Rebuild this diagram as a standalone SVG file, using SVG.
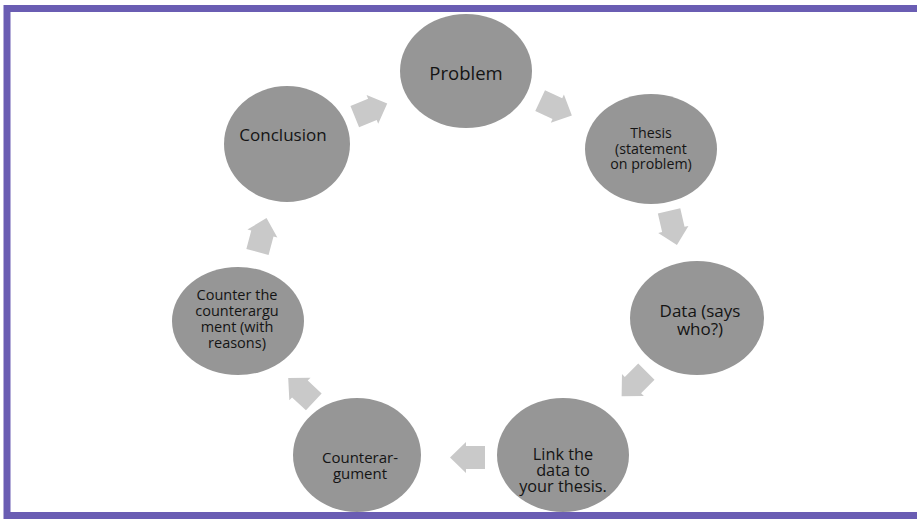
<svg xmlns="http://www.w3.org/2000/svg" width="917" height="519" viewBox="0 0 917 519">
<defs>
<style>
.node ellipse{fill:#969696;}
.node text{font-family:"Open Sans","Liberation Sans",sans-serif;fill:#141414;text-anchor:middle;dominant-baseline:central;font-size:15px;}
.arrow{fill:#c9c9c9;}
</style>
<polygon id="arr" points="-17.5,-11.5 1.5,-11.5 1.5,-15.5 17.5,0 1.5,15.5 1.5,11.5 -17.5,11.5"/>
</defs>
<rect x="0" y="0" width="917" height="519" fill="#ffffff"/>
<rect x="7" y="8.5" width="930" height="507" fill="none" stroke="#6a5db3" stroke-width="7"/>
<g id="connectors">
<use href="#arr" class="arrow" transform="translate(556,108) rotate(25)"/>
<use href="#arr" class="arrow" transform="translate(673,228) rotate(77)"/>
<use href="#arr" class="arrow" transform="translate(634,384) rotate(135)"/>
<use href="#arr" class="arrow" transform="translate(467.5,457.5) rotate(180)"/>
<use href="#arr" class="arrow" transform="translate(301,390) rotate(223)"/>
<use href="#arr" class="arrow" transform="translate(262,235) rotate(285)"/>
<use href="#arr" class="arrow" transform="translate(371,110) rotate(-22)"/>
</g>
<g id="problem" class="node">
<ellipse cx="466" cy="71" rx="66" ry="57"/>
<text x="466" y="72" style="font-size:18.5px">Problem</text>
</g>
<g id="thesis" class="node">
<ellipse cx="651" cy="149" rx="66" ry="55"/>
<text x="651" y="132" style="font-size:14.2px">Thesis</text>
<text x="651" y="148" style="font-size:14.2px">(statement</text>
<text x="651" y="163.5" style="font-size:14.2px">on problem)</text>
</g>
<g id="data" class="node">
<ellipse cx="697" cy="318" rx="67" ry="57"/>
<text x="700" y="310" style="font-size:17px">Data (says</text>
<text x="700" y="328" style="font-size:17px">who?)</text>
</g>
<g id="link" class="node">
<ellipse cx="563" cy="455" rx="66" ry="57"/>
<text x="563" y="454" style="font-size:16.3px">Link the</text>
<text x="563" y="470" style="font-size:16.3px">data to</text>
<text x="563" y="486" style="font-size:16.3px">your thesis.</text>
</g>
<g id="counterargument" class="node">
<ellipse cx="357" cy="455" rx="64" ry="57"/>
<text x="360" y="457">Counterar-</text>
<text x="360" y="473">gument</text>
</g>
<g id="counter" class="node">
<ellipse cx="238" cy="321" rx="66" ry="54"/>
<text x="237" y="294" style="font-size:14.5px">Counter the</text>
<text x="237" y="310.5" style="font-size:14.5px">counterargu</text>
<text x="237" y="326.5" style="font-size:14.5px">ment (with</text>
<text x="237" y="342" style="font-size:14.5px">reasons)</text>
</g>
<g id="conclusion" class="node">
<ellipse cx="287" cy="144" rx="63" ry="58"/>
<text x="283" y="134" style="font-size:17px">Conclusion</text>
</g>
</svg>
